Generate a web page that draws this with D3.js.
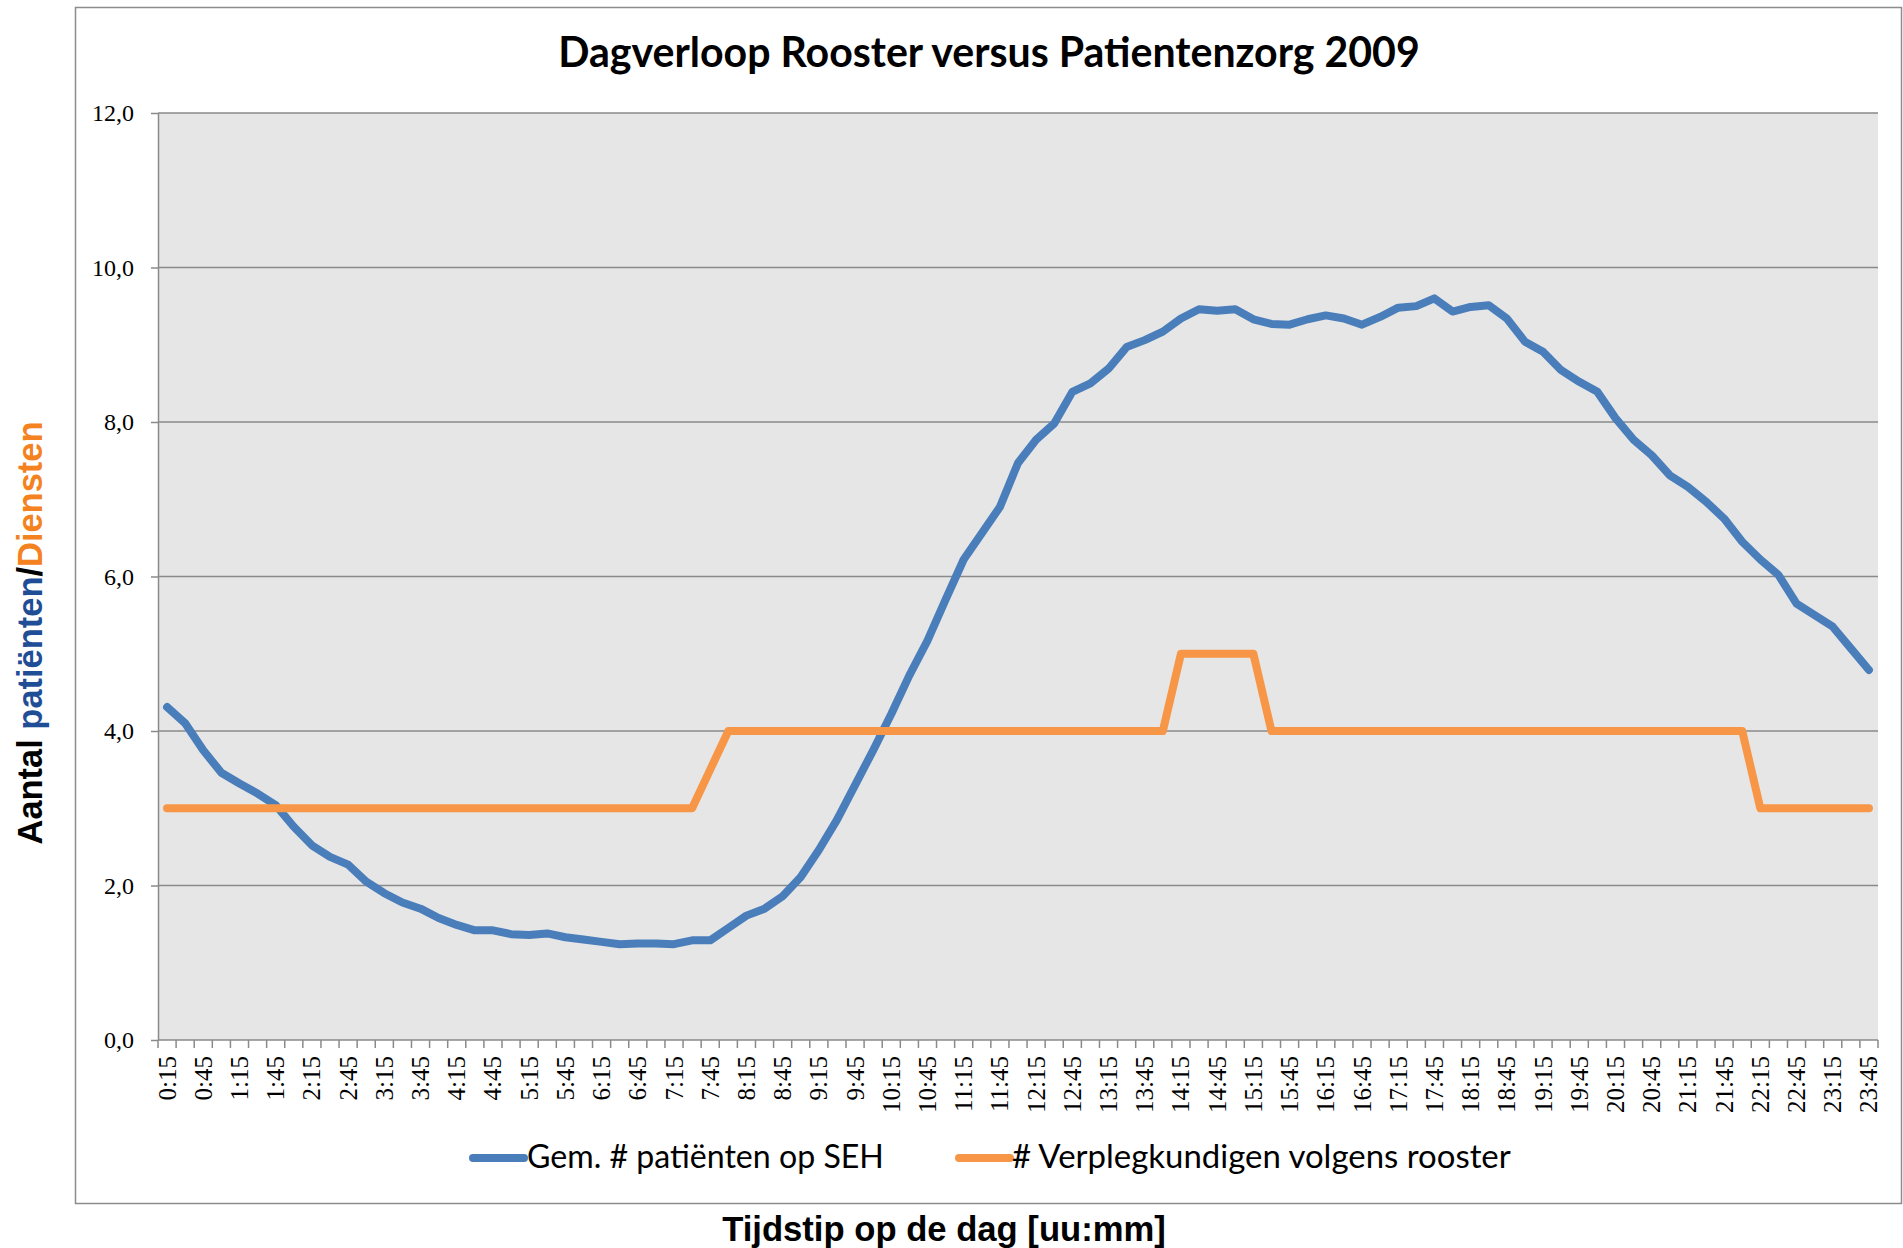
<!DOCTYPE html>
<html>
<head>
<meta charset="utf-8">
<script src="https://cdn.jsdelivr.net/npm/d3@7"></script>
<style>
  html, body { margin: 0; padding: 0; background: #ffffff; }
  svg { display: block; }
</style>
</head>
<body>
<svg id="chart" width="1903" height="1248"></svg>
<script>
const categories = ["0:15","0:30","0:45","1:00","1:15","1:30","1:45","2:00","2:15","2:30","2:45","3:00","3:15","3:30","3:45","4:00","4:15","4:30","4:45","5:00","5:15","5:30","5:45","6:00","6:15","6:30","6:45","7:00","7:15","7:30","7:45","8:00","8:15","8:30","8:45","9:00","9:15","9:30","9:45","10:00","10:15","10:30","10:45","11:00","11:15","11:30","11:45","12:00","12:15","12:30","12:45","13:00","13:15","13:30","13:45","14:00","14:15","14:30","14:45","15:00","15:15","15:30","15:45","16:00","16:15","16:30","16:45","17:00","17:15","17:30","17:45","18:00","18:15","18:30","18:45","19:00","19:15","19:30","19:45","20:00","20:15","20:30","20:45","21:00","21:15","21:30","21:45","22:00","22:15","22:30","22:45","23:00","23:15","23:30","23:45"];

const patients = [4.31,4.10,3.75,3.46,3.32,3.19,3.04,2.76,2.52,2.37,2.27,2.05,1.90,1.78,1.70,1.58,1.49,1.42,1.42,1.37,1.36,1.38,1.33,1.30,
  1.27,1.24,1.25,1.25,1.24,1.29,1.29,1.45,1.61,1.70,1.86,2.11,2.46,2.85,3.30,3.75,4.22,4.72,5.17,5.70,6.22,6.56,6.90,7.47,7.77,7.98,
  8.39,8.50,8.69,8.97,9.06,9.17,9.34,9.46,9.44,9.46,9.33,9.27,9.26,9.33,9.38,9.34,9.26,9.36,9.48,9.50,9.60,9.43,9.49,9.51,9.34,
  9.04,8.91,8.67,8.52,8.39,8.05,7.77,7.57,7.31,7.16,6.97,6.75,6.45,6.22,6.02,5.65,5.50,5.35,5.07,4.79];

const nurses = [3,3,3,3,3,3,3,3,3,3,3,3,3,3,3,3,3,3,3,3,3,3,3,3,3,3,3,3,3,3,3.5,
  4,4,4,4,4,4,4,4,4,4,4,4,4,4,4,4,4,4,4,4,4,4,4,4,4,
  5,5,5,5,5,
  4,4,4,4,4,4,4,4,4,4,4,4,4,4,4,4,4,4,4,4,4,4,4,4,4,4,4,
  3,3,3,3,3,3,3];

const yTicks = [0,2,4,6,8,10,12];
const seriesNames = ["Gem. # patiënten op SEH", "# Verplegkundigen volgens rooster"];
const seriesColors = ["#4A7EBB", "#F79646"];
const chartTitle = "Dagverloop Rooster versus Patientenzorg 2009";
const xTitle = "Tijdstip op de dag [uu:mm]";
const yTitleParts = [["Aantal ", "#000000"], ["patiënten", "#1F4E96"], ["/", "#000000"], ["Diensten", "#F58220"]];

const svg = d3.select("#chart");
const L = 158, R = 1878, T = 113, B = 1040;

function fitWidth(sel, target) {
  const w = sel.node().getComputedTextLength();
  const fs = parseFloat(sel.attr("font-size"));
  sel.attr("font-size", fs * target / w);
}

// outer chart frame
svg.append("rect").attr("x", 75.5).attr("y", 7.5).attr("width", 1826).attr("height", 1196)
  .attr("fill", "#ffffff").attr("stroke", "#8c8c8c").attr("stroke-width", 1.5);

const x = d3.scaleBand().domain(categories).range([L, R]).paddingInner(0).paddingOuter(0);
const y = d3.scaleLinear().domain([0, 12]).range([B, T]);
const cx = d => x(d) + x.bandwidth() / 2;

// plot area
svg.append("rect").attr("x", L).attr("y", T).attr("width", R - L).attr("height", B - T).attr("fill", "#E6E6E6");

// gridlines
svg.append("g").selectAll("line").data(yTicks.filter(d => d > 0)).join("line")
  .attr("x1", L).attr("x2", R).attr("y1", d => y(d)).attr("y2", d => y(d))
  .attr("stroke", "#8a8a8a").attr("stroke-width", 1.5);

// y axis
const yAxis = d3.axisLeft(y).tickValues(yTicks).tickSize(7).tickSizeOuter(0)
  .tickFormat(d => d3.format(".1f")(d).replace(".", ","));
const gy = svg.append("g").attr("transform", `translate(${L},0)`).call(yAxis);
gy.select(".domain").attr("stroke", "#8a8a8a").attr("stroke-width", 1.5);
gy.selectAll(".tick line").attr("stroke", "#8a8a8a").attr("stroke-width", 1.5);
gy.selectAll(".tick text").attr("x", -24).attr("font-family", "'Liberation Serif', 'Times New Roman', serif")
  .attr("font-size", 24).attr("fill", "#000");

// x axis: line, ticks at category boundaries, labels every other category
const boundaries = categories.map(c => x(c)).concat([R]);
svg.append("line").attr("x1", L).attr("x2", R).attr("y1", B).attr("y2", B)
  .attr("stroke", "#8a8a8a").attr("stroke-width", 1.5);
svg.append("g").selectAll("line").data(boundaries).join("line")
  .attr("x1", d => d).attr("x2", d => d).attr("y1", B).attr("y2", B + 8)
  .attr("stroke", "#8a8a8a").attr("stroke-width", 1.5);
const shownLabels = categories.filter((c, i) => i % 2 === 0);
svg.append("g").selectAll("text").data(shownLabels).join("text")
  .attr("transform", d => `translate(${cx(d)},${B + 16}) rotate(-90)`)
  .attr("text-anchor", "end").attr("dy", "0.34em")
  .attr("font-family", "'Liberation Serif', 'Times New Roman', serif").attr("font-size", 25)
  .attr("fill", "#000").text(d => d);

// lines
const line = d3.line().x((d, i) => cx(categories[i])).y(d => y(d));
[patients, nurses].forEach((s, k) => {
  svg.append("path").datum(s).attr("d", line).attr("fill", "none")
    .attr("stroke", seriesColors[k]).attr("stroke-width", 8)
    .attr("stroke-linejoin", "round").attr("stroke-linecap", "round");
});

// title
const title = svg.append("text").attr("x", 989).attr("y", 67).attr("text-anchor", "middle")
  .attr("font-family", "Lato, 'Open Sans', sans-serif").attr("font-weight", "bold").attr("font-size", 34)
  .attr("fill", "#000").text(chartTitle);
fitWidth(title, 862);

// legend
const legendItems = [
  { x1: 473, x2: 524, tx: 527, tw: 357 },
  { x1: 959, x2: 1010, tx: 1012, tw: 499 }
];
legendItems.forEach((it, k) => {
  svg.append("line").attr("x1", it.x1).attr("x2", it.x2).attr("y1", 1158).attr("y2", 1158)
    .attr("stroke", seriesColors[k]).attr("stroke-width", 8).attr("stroke-linecap", "round");
  const t = svg.append("text").attr("x", it.tx).attr("y", 1168)
    .attr("font-family", "Lato, 'Open Sans', sans-serif").attr("font-size", 30)
    .attr("fill", "#000").text(seriesNames[k]);
  fitWidth(t, it.tw);
});

// x axis title
const xt = svg.append("text").attr("x", 944).attr("y", 1241).attr("text-anchor", "middle")
  .attr("font-family", "'Liberation Sans', Arial, sans-serif").attr("font-weight", "bold").attr("font-size", 32)
  .attr("fill", "#000").text(xTitle);
fitWidth(xt, 444);

// y axis title
const yt = svg.append("text").attr("transform", "translate(42,633) rotate(-90)").attr("text-anchor", "middle")
  .attr("font-family", "'Liberation Sans', Arial, sans-serif").attr("font-weight", "bold").attr("font-size", 34);
yTitleParts.forEach(p => yt.append("tspan").attr("fill", p[1]).text(p[0]));
fitWidth(yt, 423);
</script>
</body>
</html>
